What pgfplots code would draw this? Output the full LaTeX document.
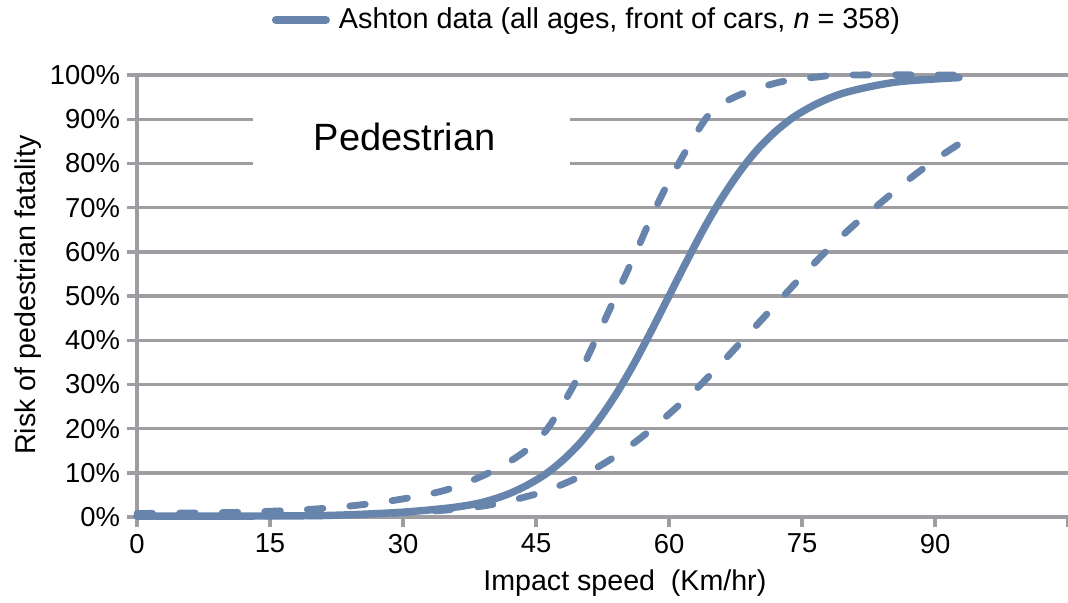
\documentclass[border=0pt]{standalone}
\usepackage{fontspec}
\setmainfont{Liberation Sans}
\usepackage{pgfplots}
\pgfplotsset{compat=1.18}
\definecolor{curve}{RGB}{103,132,173}
\definecolor{gridg}{RGB}{158,158,162}
\begin{document}
\begin{tikzpicture}
\begin{axis}[
  scale only axis, width=465.5pt, height=221pt,
  xmin=0, xmax=105, ymin=0, ymax=100,
  axis lines*=left,
  axis line style={gridg, line width=1.7pt},
  xtick={0,15,...,105}, xticklabels={0,15,30,45,60,75,90,{}},
  ytick={0,10,...,100}, yticklabel={\pgfmathprintnumber{\tick}\%},
  tick align=outside, major tick length=5pt,
  tick style={gridg, line width=1.7pt},
  ymajorgrids, grid style={gridg, line width=1.7pt},
  ticklabel style={font=\fontsize{13.7}{16}\selectfont},
  /pgf/number format/assume math mode=true,
  clip=false,
  xlabel={Impact speed\ \ (Km/hr)},
  ylabel={Risk of pedestrian fatality},
  label style={font=\fontsize{14.3}{17}\selectfont},
  xlabel style={at={(axis description cs:0.524,-0.167)}, anchor=base},
  ylabel style={at={(axis description cs:-0.117,0.502)}, anchor=center},
  legend style={at={(0.4844,1.1244)}, anchor=center, draw=none, fill=none,
    font=\fontsize{14.4}{17}\selectfont},
  legend image code/.code={\draw[line width=4pt, line cap=round, solid] (0pt,0pt) -- (25pt,0pt);
    \path[draw=none, fill=none] (0pt,0pt) -- (29.5pt,0pt);},
]
\addplot[curve, line width=3.7pt, smooth, line cap=round] coordinates {
(0,0.2) (10,0.2) (20,0.3) (25,0.6) (30,1.1) (35,2.0) (38,2.9) (40,3.9) (42,5.3)
(44,7.2) (46,9.6) (48,12.8) (50,16.8) (52,21.8) (54,27.7) (56,34.5) (58,42.1)
(60,50) (62,57.9) (64,65.5) (66,72.3) (68,78.2) (70,83.2) (72,87.2) (74,90.4)
(76,92.8) (78,94.7) (80,96.1) (83,97.5) (86,98.5) (90,99.1) (92.7,99.4)
};
\addlegendentry{Ashton data (all ages, front of cars, \textit{n} = 358)}
\addplot[curve, line width=3.4pt, smooth, line cap=round, dash pattern=on 7.8pt off 13.5pt, forget plot] coordinates {
(0,0.8) (10,1.0) (15,1.3) (20,1.8) (25,2.7) (30,4.1) (35,6.2) (39.7,10) (43.5,14.5)
(46.3,20) (49.3,30) (51.7,40) (54,50) (56.3,60) (58.5,70) (61.1,80) (64.1,90)
(66,93.5) (68.3,95.8) (70.5,97.3) (73,98.6) (76.5,99.5) (80,100) (92.7,100)
};
\addplot[curve, line width=3.4pt, smooth, line cap=round, dash pattern=on 7.8pt off 13.5pt, forget plot] coordinates {
(0,0.2) (20,0.3) (25,0.5) (30,1) (35,1.6) (40,2.8) (45,5.2) (48,7.4) (51,10.2)
(54,13.8) (57,18.2) (60,23.3) (63,28.8) (66,35) (69,41.5) (72,48) (75,54.5)
(78,60.7) (81,66.3) (84,71.3) (87,76.3) (90,80.8) (92.7,84.4)
};
\node[fill=white, minimum width=158.5pt, minimum height=40pt, inner sep=0pt]
  at (axis cs:31.0,85.3) {};
\node[inner sep=0pt, anchor=base, font=\fontsize{19}{22}\selectfont]
  at (axis cs:30.2,83.0) {Pedestrian};
\end{axis}
\pgfresetboundingbox
\path[use as bounding box] (-68.5pt,-42.5pt) rectangle (465.5pt,258.5pt);
\end{tikzpicture}
\end{document}
